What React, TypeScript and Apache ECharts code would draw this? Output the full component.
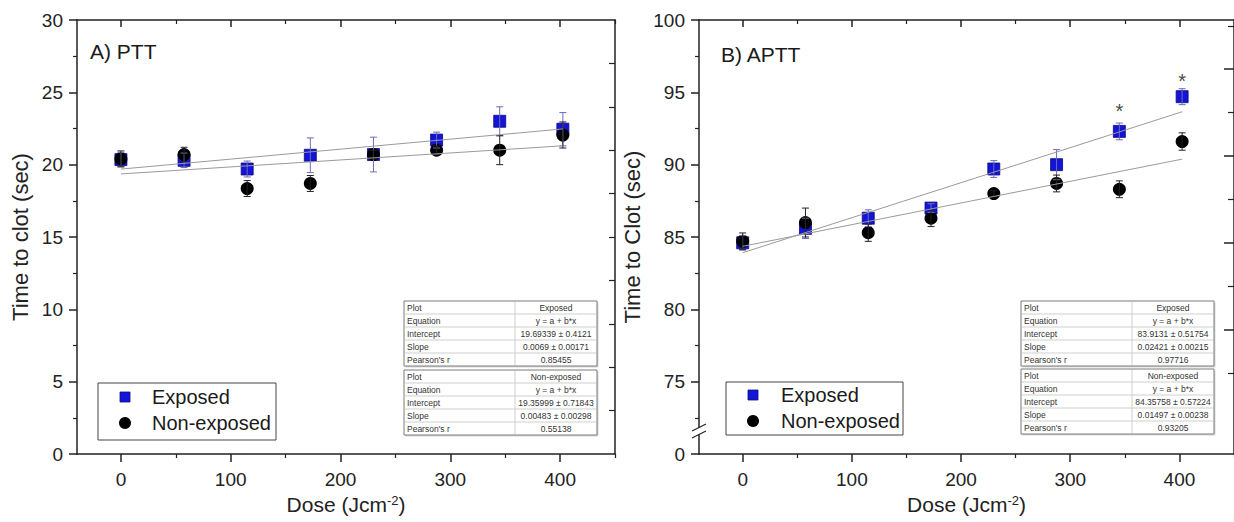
import React, { useEffect, useRef } from "react";
import * as echarts from "echarts";

const FONT = "'Liberation Sans', Arial, sans-serif";

// ---------- data ----------
const doses = [0, 57.5, 115, 172.5, 230, 287.5, 345, 402.5];

const pttExposed = [20.35, 20.3, 19.7, 20.65, 20.7, 21.7, 23.0, 22.45];
const pttExposedErr = [0.5, 0.5, 0.55, 1.2, 1.2, 0.55, 1.0, 1.15];
const pttNonExposed = [20.4, 20.7, 18.35, 18.7, 20.7, 21.0, 21.0, 22.05];
const pttNonExposedErr = [0.55, 0.5, 0.55, 0.55, 0.3, 0.3, 1.0, 0.9];

const apttExposed = [84.6, 85.6, 86.3, 87.0, 89.7, 90.0, 92.3, 94.7];
const apttExposedErr = [0.5, 0.7, 0.58, 0.3, 0.58, 1.04, 0.58, 0.55];
const apttNonExposed = [84.7, 86.0, 85.3, 86.3, 88.0, 88.7, 88.3, 91.6];
const apttNonExposedErr = [0.58, 1.0, 0.6, 0.58, 0.2, 0.58, 0.58, 0.6];

// linear fits: [intercept, slope]
const pttExposedFit = [19.69339, 0.0069];
const pttNonExposedFit = [19.35999, 0.00483];
const apttExposedFit = [83.9131, 0.02421];
const apttNonExposedFit = [84.35758, 0.01497];
const fitRange = [0, 402.5];

// significance markers (APTT)
const asteriskDoses = [345, 402.5];
const asteriskY = [93.7, 95.8];

// tick values
const xMajorTicks = [0, 100, 200, 300, 400];
const xMinorTicks = [50, 150, 250, 350, 450];
const pttRightTicks = [3, 6, 9, 12, 15, 18, 21, 24, 27];
const apttRightLongTicks = [78.6, 84.6, 90.6, 96.6];
const apttRightShortTicks = [75.6, 81.6, 87.6, 93.6, 99.6];

// fit tables
const tablePttExposed = [
  ["Plot", "Exposed"],
  ["Equation", "y = a + b*x"],
  ["Intercept", "19.69339 ± 0.4121"],
  ["Slope", "0.0069 ± 0.00171"],
  ["Pearson's r", "0.85455"],
];
const tablePttNon = [
  ["Plot", "Non-exposed"],
  ["Equation", "y = a + b*x"],
  ["Intercept", "19.35999 ± 0.71843"],
  ["Slope", "0.00483 ± 0.00298"],
  ["Pearson's r", "0.55138"],
];
const tableApttExposed = [
  ["Plot", "Exposed"],
  ["Equation", "y = a + b*x"],
  ["Intercept", "83.9131 ± 0.51754"],
  ["Slope", "0.02421 ± 0.00215"],
  ["Pearson's r", "0.97716"],
];
const tableApttNon = [
  ["Plot", "Non-exposed"],
  ["Equation", "y = a + b*x"],
  ["Intercept", "84.35758 ± 0.57224"],
  ["Slope", "0.01497 ± 0.00238"],
  ["Pearson's r", "0.93205"],
];

// ---------- styles ----------
const AXIS_COLOR = "#222";
const SQ_COLOR = "#1414d4";
const ERR_EXPOSED = "#6b6bbd";
const ERR_NON = "#222";
const FIT_COLOR = "#9a9a9a";

function pairs(xs: number[], ys: number[]) {
  return xs.map((x, i) => [x, ys[i]]);
}
function triples(xs: number[], ys: number[], es: number[]) {
  return xs.map((x, i) => [x, ys[i], es[i]]);
}
function fitLine(fit: number[]) {
  return fitRange.map((x) => [x, fit[0] + fit[1] * x]);
}

const shownLine = { show: true, onZero: false, lineStyle: { color: AXIS_COLOR, width: 1.5 } };
const hiddenLine = { show: false, onZero: false };

function xAxesFor(gridIndex: number) {
  const base = {
    gridIndex,
    type: "value",
    min: -40,
    max: 450,
    splitLine: { show: false },
  };
  return [
    {
      ...base,
      position: "bottom",
      axisLine: shownLine,
      axisTick: { show: true, inside: false, length: 8, customValues: xMajorTicks, lineStyle: { color: AXIS_COLOR, width: 1.5 } },
      axisLabel: { show: true, customValues: xMajorTicks, fontSize: 19, color: AXIS_COLOR, fontFamily: FONT, margin: 16 },
      name: "{a|Dose (Jcm}{s|-2}{a|)}",
      nameLocation: "middle",
      nameGap: 39,
      nameTextStyle: {
        rich: {
          a: { fontSize: 21, fontFamily: FONT, color: AXIS_COLOR },
          s: { fontSize: 13, fontFamily: FONT, color: AXIS_COLOR, verticalAlign: "top" },
        },
      },
    },
    {
      ...base,
      position: "bottom",
      axisLine: hiddenLine,
      axisTick: { show: true, inside: false, length: 4, customValues: xMinorTicks, lineStyle: { color: AXIS_COLOR, width: 1.2 } },
      axisLabel: { show: false },
    },
    {
      ...base,
      position: "top",
      axisLine: shownLine,
      axisTick: { show: true, inside: true, length: 7, customValues: xMajorTicks, lineStyle: { color: AXIS_COLOR, width: 1.5 } },
      axisLabel: { show: false },
    },
    {
      ...base,
      position: "top",
      axisLine: hiddenLine,
      axisTick: { show: true, inside: true, length: 4, customValues: xMinorTicks, lineStyle: { color: AXIS_COLOR, width: 1.2 } },
      axisLabel: { show: false },
    },
  ];
}

function errorSeries(data: number[][], color: string, xi: number, yi: number) {
  return {
    type: "custom",
    xAxisIndex: xi,
    yAxisIndex: yi,
    silent: true,
    z: 4,
    encode: { x: 0, y: 1 },
    data,
    renderItem: (params: any, api: any) => {
      const x = api.value(0);
      const y = api.value(1);
      const e = api.value(2);
      const p = api.coord([x, y + e]);
      const q = api.coord([x, y - e]);
      const w = 3.5;
      const st = { stroke: color, lineWidth: 1, fill: null };
      return {
        type: "group",
        children: [
          { type: "line", shape: { x1: p[0], y1: p[1], x2: q[0], y2: q[1] }, style: st },
          { type: "line", shape: { x1: p[0] - w, y1: p[1], x2: p[0] + w, y2: p[1] }, style: st },
          { type: "line", shape: { x1: q[0] - w, y1: q[1], x2: q[0] + w, y2: q[1] }, style: st },
        ],
      };
    },
  };
}

function seriesFor(
  xi: number,
  yi: number,
  exp: number[],
  expErr: number[],
  non: number[],
  nonErr: number[],
  expFit: number[],
  nonFit: number[]
) {
  return [
    {
      type: "scatter",
      name: "Exposed",
      xAxisIndex: xi,
      yAxisIndex: yi,
      symbol: "rect",
      symbolSize: 12,
      itemStyle: { color: SQ_COLOR, borderColor: "#0a0a80", borderWidth: 0.8, opacity: 1 },
      z: 2,
      silent: true,
      data: pairs(doses, exp),
    },
    {
      type: "scatter",
      name: "Non-exposed",
      xAxisIndex: xi,
      yAxisIndex: yi,
      symbol: "circle",
      symbolSize: 13,
      itemStyle: { color: "#000", opacity: 1 },
      z: 3,
      silent: true,
      data: pairs(doses, non),
    },
    errorSeries(triples(doses, exp, expErr), ERR_EXPOSED, xi, yi),
    errorSeries(triples(doses, non, nonErr), ERR_NON, xi, yi),
    {
      type: "line",
      xAxisIndex: xi,
      yAxisIndex: yi,
      symbol: "none",
      showSymbol: false,
      silent: true,
      z: 5,
      lineStyle: { color: FIT_COLOR, width: 1 },
      data: fitLine(expFit),
    },
    {
      type: "line",
      xAxisIndex: xi,
      yAxisIndex: yi,
      symbol: "none",
      showSymbol: false,
      silent: true,
      z: 5,
      lineStyle: { color: FIT_COLOR, width: 1 },
      data: fitLine(nonFit),
    },
  ];
}

function textEl(text: string, x: number, y: number, size: number, align = "left", extra: any = {}) {
  return {
    type: "text",
    x,
    y,
    silent: true,
    z: 20,
    style: {
      text,
      fill: "#1a1a1a",
      fontSize: size,
      fontFamily: FONT,
      align,
      verticalAlign: "middle",
      textAlign: align,
      textVerticalAlign: "middle",
      ...extra,
    },
  };
}

function tableEls(x: number, y: number, rows: string[][]) {
  const w = 193;
  const rh = 13;
  const div = 111;
  const h = rh * rows.length;
  const els: any[] = [];
  els.push({
    type: "rect",
    shape: { x: x + 1.5, y: y + 1.5, width: w, height: h },
    style: { fill: "#d8d8d8", stroke: null },
    silent: true,
    z: 18,
  });
  els.push({
    type: "rect",
    shape: { x, y, width: w, height: h },
    style: { fill: "#fff", stroke: "#7a7a7a", lineWidth: 1 },
    silent: true,
    z: 19,
  });
  for (let i = 1; i < rows.length; i++) {
    els.push({
      type: "line",
      shape: { x1: x + 1, y1: y + i * rh, x2: x + w - 1, y2: y + i * rh },
      style: { stroke: "#cfcfcf", lineWidth: 1 },
      silent: true,
      z: 19,
    });
  }
  els.push({
    type: "line",
    shape: { x1: x + div, y1: y + 1, x2: x + div, y2: y + h - 1 },
    style: { stroke: "#cfcfcf", lineWidth: 1 },
    silent: true,
    z: 19,
  });
  rows.forEach((r, i) => {
    const cy = y + i * rh + rh / 2 + 0.5;
    els.push(textEl(r[0], x + 3, cy, 8.5, "left", { fill: "#333" }));
    els.push(textEl(r[1], x + div + (w - div) / 2, cy, 8.5, "center", { fill: "#333" }));
  });
  return els;
}

function legendEls(x: number, y: number, w: number, h: number, mx: number, tx: number, y1: number, y2: number) {
  return [
    {
      type: "rect",
      shape: { x, y, width: w, height: h },
      style: { fill: "#fff", stroke: "#444", lineWidth: 1 },
      silent: true,
      z: 18,
    },
    {
      type: "rect",
      shape: { x: mx - 5, y: y1 - 5, width: 10, height: 10 },
      style: { fill: SQ_COLOR, stroke: "#0a0a80", lineWidth: 0.8 },
      silent: true,
      z: 19,
    },
    {
      type: "circle",
      shape: { cx: mx, cy: y2, r: 6 },
      style: { fill: "#000" },
      silent: true,
      z: 19,
    },
    textEl("Exposed", tx, y1, 20),
    textEl("Non-exposed", tx, y2, 20),
  ];
}

export default function App() {
  const ref = useRef<HTMLDivElement>(null);

  useEffect(() => {
    if (!ref.current) return;
    const chart = echarts.init(ref.current, undefined, { renderer: "svg" });

    const option: any = {
      animation: false,
      backgroundColor: "#fff",
      grid: [
        { left: 77, top: 20, width: 538, height: 434 },
        { left: 699, top: 20, width: 538, height: 434 },
      ],
      xAxis: [...xAxesFor(0), ...xAxesFor(1)],
      yAxis: [
        {
          gridIndex: 0,
          type: "value",
          min: 0,
          max: 30,
          interval: 5,
          position: "left",
          axisLine: shownLine,
          axisTick: { show: true, inside: false, length: 8, lineStyle: { color: AXIS_COLOR, width: 1.5 } },
          minorTick: { show: true, splitNumber: 2, length: 4, lineStyle: { color: AXIS_COLOR, width: 1.2 } },
          axisLabel: { fontSize: 19, color: AXIS_COLOR, fontFamily: FONT, margin: 14 },
          splitLine: { show: false },
          name: "Time to clot (sec)",
          nameLocation: "middle",
          nameGap: 46,
          nameTextStyle: { fontSize: 22, fontFamily: FONT, color: AXIS_COLOR },
        },
        {
          gridIndex: 0,
          type: "value",
          min: 0,
          max: 30,
          position: "right",
          axisLine: shownLine,
          axisTick: { show: true, inside: true, length: 6, customValues: pttRightTicks, lineStyle: { color: AXIS_COLOR, width: 1.2 } },
          axisLabel: { show: false },
          splitLine: { show: false },
        },
        {
          gridIndex: 1,
          type: "value",
          min: 70,
          max: 100,
          interval: 5,
          position: "left",
          axisLine: shownLine,
          axisTick: { show: true, inside: false, length: 8, lineStyle: { color: AXIS_COLOR, width: 1.5 } },
          minorTick: { show: true, splitNumber: 2, length: 4, lineStyle: { color: AXIS_COLOR, width: 1.2 } },
          axisLabel: {
            fontSize: 19,
            color: AXIS_COLOR,
            fontFamily: FONT,
            margin: 14,
            formatter: (v: number) => (v === 70 ? "0" : String(v)),
          },
          splitLine: { show: false },
          name: "Time to Clot (sec)",
          nameLocation: "middle",
          nameGap: 56,
          nameTextStyle: { fontSize: 22, fontFamily: FONT, color: AXIS_COLOR },
        },
        {
          gridIndex: 1,
          type: "value",
          min: 70,
          max: 100,
          position: "right",
          axisLine: shownLine,
          axisTick: { show: true, inside: true, length: 10, customValues: apttRightLongTicks, lineStyle: { color: AXIS_COLOR, width: 1.5 } },
          axisLabel: { show: false },
          splitLine: { show: false },
        },
        {
          gridIndex: 1,
          type: "value",
          min: 70,
          max: 100,
          position: "right",
          axisLine: hiddenLine,
          axisTick: { show: true, inside: true, length: 6, customValues: apttRightShortTicks, lineStyle: { color: AXIS_COLOR, width: 1.2 } },
          axisLabel: { show: false },
          splitLine: { show: false },
        },
      ],
      series: [
        ...seriesFor(0, 0, pttExposed, pttExposedErr, pttNonExposed, pttNonExposedErr, pttExposedFit, pttNonExposedFit),
        ...seriesFor(4, 2, apttExposed, apttExposedErr, apttNonExposed, apttNonExposedErr, apttExposedFit, apttNonExposedFit),
        {
          type: "scatter",
          xAxisIndex: 4,
          yAxisIndex: 2,
          symbolSize: 1,
          itemStyle: { color: "rgba(0,0,0,0)" },
          silent: true,
          z: 6,
          label: {
            show: true,
            position: "inside",
            formatter: "*",
            fontSize: 20,
            fontFamily: FONT,
            color: "#111",
          },
          data: pairs(asteriskDoses, asteriskY),
        },
      ],
      graphic: [
        textEl("A) PTT", 90, 51, 21),
        textEl("B) APTT", 721, 54, 21),
        ...legendEls(98, 383, 178, 57, 125, 152, 397, 423),
        ...legendEls(726, 382, 177, 53, 753, 781, 395, 421),
        ...tableEls(404, 301, tablePttExposed),
        ...tableEls(404, 370, tablePttNon),
        ...tableEls(1021, 301, tableApttExposed),
        ...tableEls(1021, 369, tableApttNon),
        // axis break on APTT y-axis
        {
          type: "rect",
          shape: { x: 695, y: 428, width: 8, height: 6 },
          style: { fill: "#fff" },
          silent: true,
          z: 30,
        },
        {
          type: "line",
          shape: { x1: 692, y1: 431, x2: 706, y2: 424 },
          style: { stroke: AXIS_COLOR, lineWidth: 1.2 },
          silent: true,
          z: 31,
        },
        {
          type: "line",
          shape: { x1: 692, y1: 438, x2: 706, y2: 431 },
          style: { stroke: AXIS_COLOR, lineWidth: 1.2 },
          silent: true,
          z: 31,
        },
      ],
    };

    chart.setOption(option);
    return () => chart.dispose();
  }, []);

  return (
    <div
      ref={ref}
      style={{ position: "absolute", left: 0, top: 0, width: 1234, height: 522, background: "#fff" }}
    />
  );
}
